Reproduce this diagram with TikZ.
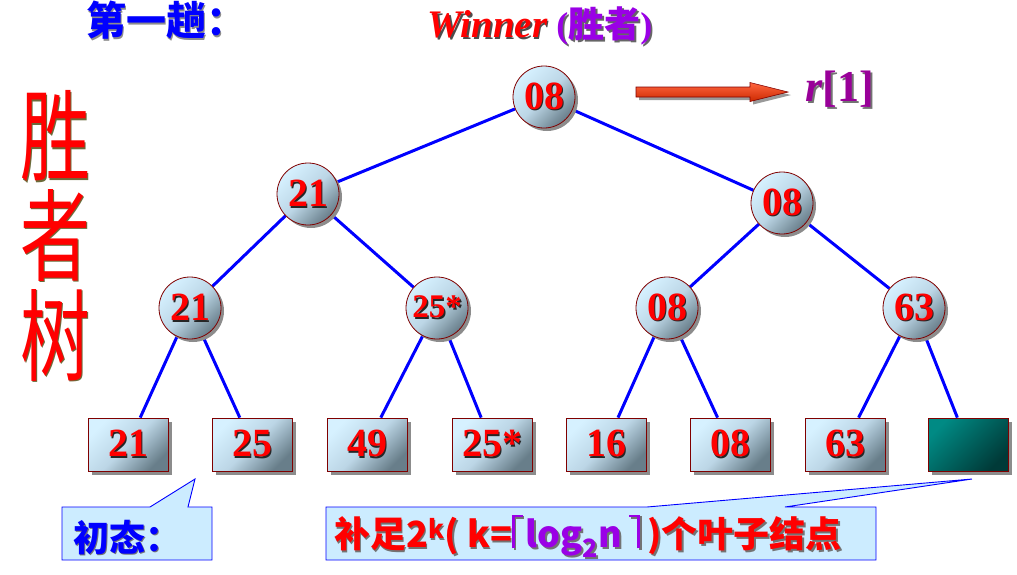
\documentclass[tikz,border=0pt]{standalone}
\usepackage{fontspec}
\setmainfont{Liberation Serif}
\newfontfamily\cjk{Noto Sans CJK SC}
\usetikzlibrary{shadows,backgrounds}
\definecolor{edgeblue}{HTML}{0000FF}
\definecolor{noderim}{HTML}{800000}
\definecolor{nodelight}{HTML}{D6F1FF}
\definecolor{nodemid}{HTML}{BCD6E6}
\definecolor{nodedark}{HTML}{687E8A}
\definecolor{tealA}{HTML}{008A84}
\definecolor{tealB}{HTML}{003A38}
\definecolor{callfill}{HTML}{CCECFF}
\definecolor{winpurple}{HTML}{9A00E6}
\definecolor{rpurple}{HTML}{990099}
\definecolor{olive}{HTML}{6B6B3A}
\definecolor{arrowred}{HTML}{FF3300}
\newcommand\shd[3]{\leavevmode\rlap{\hspace{1.6pt}\raisebox{-1.6pt}{\color{#2}#3}}{\color{#1}#3}}
\newcommand\numtxt[1]{\shd{red}{black!85}{#1}}
\newcommand\lceilc{\rlap{\rule[0.84em]{0.3em}{0.08em}}\rule[-0.02em]{0.08em}{0.94em}\hspace{0.3em}}
\newcommand\rceilc{\hspace{0.42em}\rlap{\hspace{-0.22em}\rule[0.84em]{0.3em}{0.08em}}\rule[-0.02em]{0.08em}{0.94em}\hspace{0.2em}}
\newcommand\calltwo[2]{{\color{#1}补足2\textsuperscript{k}( k=}{\color{#2}\lceilc log\textsubscript{2}n\rceilc}{\color{#1})个叶子结点}}
\tikzset{
  nshade/.style={top color=nodelight, bottom color=nodedark, middle color=nodemid, shading angle=45},
  cnode/.style={circle, draw=noderim, line width=0.8pt, minimum size=62pt, inner sep=0pt, nshade,
    drop shadow={shadow xshift=3pt, shadow yshift=-3pt, fill=black!45, opacity=1},
    font=\fontsize{40}{40}\selectfont\bfseries},
  leaf/.style={rectangle, draw=noderim, line width=0.8pt, minimum width=80pt, minimum height=53pt, inner sep=0pt, nshade,
    drop shadow={shadow xshift=4pt, shadow yshift=-4pt, fill=black!45, opacity=1},
    font=\fontsize{40}{40}\selectfont\bfseries},
  tealleaf/.style={leaf, top color=tealA, bottom color=tealB, shading angle=45},
  edge/.style={draw=edgeblue, line width=3pt},
  callout/.style={draw=edgeblue, line width=0.9pt, fill=callfill},
  bigch/.style={inner sep=0pt, font=\cjk\fontsize{100}{100}\selectfont},
}
\begin{document}
\begin{tikzpicture}[x=1pt, y=-1pt]
\useasboundingbox (0,0) rectangle (1017,574);
% titles
\node[inner sep=0pt, font=\cjk\bfseries\fontsize{40}{42}\selectfont] (title1) at (166,21) {\shd{edgeblue}{black!45}{第一趟：}};
\node[inner sep=0pt] (title2) at (540,27) {\shd{red}{black!70}{\fontsize{39}{40}\selectfont\bfseries\itshape Winner}\hspace{9pt}\shd{winpurple}{black!60}{\fontsize{36}{40}\selectfont\bfseries (\cjk 胜者\rmfamily)}};
% vertical big title
\node[bigch] (c1) at (55,137) {\scalebox{0.7}[1]{\shd{red}{olive}{胜}}};
\node[bigch] (c2) at (55,236) {\scalebox{0.7}[1]{\shd{red}{olive}{者}}};
\node[bigch] (c3) at (55,336) {\scalebox{0.7}[1]{\shd{red}{olive}{树}}};
% tree nodes
\node[cnode] (n1) at (544,97) {\numtxt{08}};
\node[cnode] (n2) at (308,194) {\numtxt{21}};
\node[cnode] (n3) at (782,203) {\numtxt{08}};
\node[cnode] (n4) at (190,308) {\numtxt{21}};
\node[cnode, font=\fontsize{33}{33}\selectfont\bfseries] (n5) at (437,308) {\numtxt{25*}};
\node[cnode] (n6) at (667,308) {\numtxt{08}};
\node[cnode] (n7) at (914,308) {\numtxt{63}};
\node[leaf] (l1) at (128,444.5) {\numtxt{21}};
\node[leaf] (l2) at (252,444.5) {\numtxt{25}};
\node[leaf] (l3) at (367,444.5) {\numtxt{49}};
\node[leaf] (l4) at (492,444.5) {\numtxt{25*}};
\node[leaf] (l5) at (606,444.5) {\numtxt{16}};
\node[leaf] (l6) at (730,444.5) {\numtxt{08}};
\node[leaf] (l7) at (845,444.5) {\numtxt{63}};
\node[tealleaf] (l8) at (968,444.5) {};
% edges
\begin{scope}[on background layer]
\draw[edge] (n1) -- (n2);
\draw[edge] (n1) -- (n3);
\draw[edge] (n2) -- (n4);
\draw[edge] (n2) -- (n5);
\draw[edge] (n3) -- (n6);
\draw[edge] (n3) -- (n7);
\draw[edge] (n4) -- (l1);
\draw[edge] (n4) -- (l2);
\draw[edge] (n5) -- (l3);
\draw[edge] (n5) -- (l4);
\draw[edge] (n6) -- (l5);
\draw[edge] (n6) -- (l6);
\draw[edge] (n7) -- (l7);
\draw[edge] (n7) -- (l8);
\end{scope}
% arrow to r[1]
\coordinate (aS) at (636,92);
\coordinate (aT) at (788,92);
\draw[noderim, line width=0.6pt, top color=arrowred!75!white, bottom color=arrowred!80!black,
  drop shadow={shadow xshift=3pt, shadow yshift=-3pt, fill=black!40, opacity=1}]
  ([shift={(0,-5)}]aS) -- ([shift={(114,-5)}]aS) -- ([shift={(114,-9.5)}]aS) -- (aT)
  -- ([shift={(114,9.5)}]aS) -- ([shift={(114,5)}]aS) -- ([shift={(0,5)}]aS) -- cycle;
\node[inner sep=0pt, font=\fontsize{44}{44}\selectfont\bfseries] (r1) at (840,90) {\shd{rpurple}{black!55}{\itshape r\upshape[1]}};
% callout 1
\coordinate (p1) at (195,479);
\draw[callout] (62,507) -- (150,507) -- (p1) -- (188,507) -- (212,507) -- (212,560) -- (62,560) -- cycle;
\node[inner sep=0pt, font=\cjk\bfseries\fontsize{36}{40}\selectfont] (t1) at (127,538) {\shd{edgeblue}{black!55}{初态：}};
% callout 2
\coordinate (p2) at (972,479);
\draw[callout] (326,507) -- (647,507) -- (p2) -- (785,507) -- (876,507) -- (876,560) -- (326,560) -- cycle;
\node[inner sep=0pt, font=\cjk\bfseries\fontsize{36}{40}\selectfont] (t2) at (588,537) {\leavevmode\rlap{\hspace{1.6pt}\raisebox{-1.6pt}{\calltwo{black!55}{black!55}}}\calltwo{red}{winpurple}};
\end{tikzpicture}
\end{document}
